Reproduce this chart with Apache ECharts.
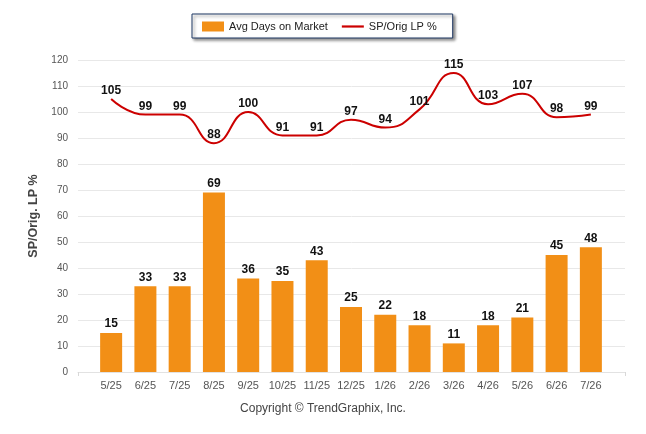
<!DOCTYPE html>
<html>
<head>
<meta charset="utf-8">
<script src="https://cdn.jsdelivr.net/npm/echarts@6/dist/echarts.min.js"></script>
<style>
  html, body { margin: 0; padding: 0; background: #fff; }
  #chart { width: 646px; height: 434px; }
</style>
</head>
<body>
<div id="chart"></div>
<script>
// months on the x axis
var months = ['5/25', '6/25', '7/25', '8/25', '9/25', '10/25', '11/25', '12/25',
    '1/26', '2/26', '3/26', '4/26', '5/26', '6/26', '7/26'];
// bars
var avgDays = [15, 33, 33, 69, 36, 35, 43, 25, 22, 18, 11, 18, 21, 45, 48];
// line
var spOrig = [105, 99, 99, 88, 100, 91, 91, 97, 94, 101, 115, 103, 107, 98, 99];

var FONT = 'Liberation Sans, Arial, sans-serif';
var chart = echarts.init(document.getElementById('chart'), null, { renderer: 'canvas' });

var option = {
    animation: false,
    textStyle: { fontFamily: FONT },
    legend: {
        left: 192,
        top: 14,
        padding: [7, 16, 6, 10],
        itemGap: 14,
        itemWidth: 22,
        itemHeight: 10,
        borderColor: '#1f3864',
        borderWidth: 1,
        backgroundColor: '#fff',
        shadowColor: 'rgba(0,0,0,0.45)',
        shadowBlur: 3,
        shadowOffsetX: 2,
        shadowOffsetY: 2,
        textStyle: { fontFamily: FONT, fontSize: 11, color: '#222' },
        data: [
            { name: 'Avg Days on Market', icon: 'rect' },
            { name: 'SP/Orig LP %', icon: 'path://M0,0 L20,0 L20,2 L0,2 Z' }
        ]
    },
    grid: [
        { left: 78, right: 21, top: 60, bottom: 62 },
        { left: 94, right: 38, top: 60, bottom: 62 }
    ],
    xAxis: [
        {
            gridIndex: 0,
            type: 'category',
            data: [''],
            axisLine: { lineStyle: { color: '#e2e2e2' } },
            axisTick: { show: true, length: 4, lineStyle: { color: '#d8d8d8' } },
            axisLabel: { show: false }
        },
        {
            gridIndex: 1,
            type: 'category',
            data: months,
            axisLine: { show: false },
            axisTick: { show: false },
            axisLabel: { color: '#555', fontSize: 11, margin: 8, interval: 0 }
        }
    ],
    yAxis: [
        {
            gridIndex: 0,
            type: 'value',
            min: 0,
            max: 120,
            interval: 10,
            name: 'SP/Orig. LP %',
            nameLocation: 'middle',
            nameGap: 30,
            nameTextStyle: { fontFamily: FONT, fontSize: 12.5, fontWeight: 'bold', color: '#444' },
            axisLine: { show: false },
            axisTick: { show: false },
            axisLabel: { color: '#555', fontSize: 10, margin: 10 },
            splitLine: { lineStyle: { color: '#e8e8e8' } }
        },
        {
            gridIndex: 1,
            type: 'value',
            min: 0,
            max: 120,
            interval: 10,
            show: false
        }
    ],
    series: [
        {
            name: 'Avg Days on Market',
            type: 'bar',
            xAxisIndex: 1,
            yAxisIndex: 1,
            data: avgDays,
            barWidth: 22,
            itemStyle: { color: '#f28f16' },
            label: {
                show: true,
                position: 'top',
                distance: 3,
                color: '#111',
                fontSize: 12,
                fontWeight: 'bold',
                fontFamily: FONT
            }
        },
        {
            name: 'SP/Orig LP %',
            type: 'line',
            xAxisIndex: 1,
            yAxisIndex: 1,
            data: spOrig,
            smooth: 0.5,
            symbol: 'circle',
            symbolSize: 0.1,
            itemStyle: { color: '#cc0000' },
            lineStyle: { color: '#cc0000', width: 2 },
            label: {
                show: true,
                position: 'top',
                distance: 2,
                color: '#111',
                fontSize: 12,
                fontWeight: 'bold',
                fontFamily: FONT
            }
        }
    ],
    graphic: [
        {
            type: 'text',
            left: 'center',
            top: 403,
            style: {
                text: 'Copyright \u00a9 TrendGraphix, Inc.',
                fill: '#444',
                font: '12px ' + FONT
            }
        }
    ]
};

chart.setOption(option);
</script>
</body>
</html>
